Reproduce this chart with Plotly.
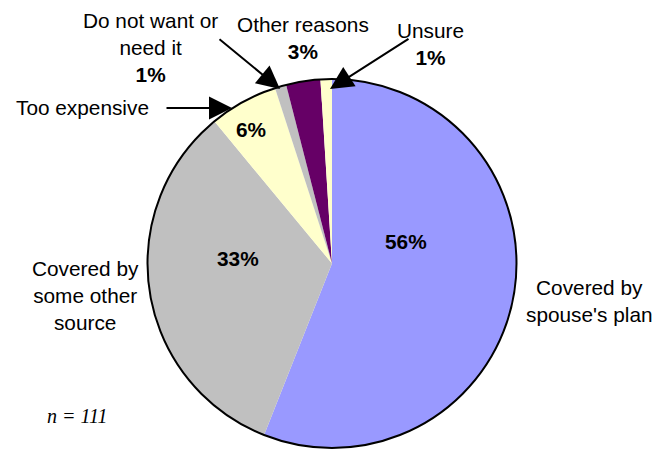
import plotly.graph_objects as go

labels = ["Covered by spouse's plan", "Covered by some other source", "Too expensive",
          "Do not want or need it", "Other reasons", "Unsure"]
values = [56, 33, 6, 1, 3, 1]
colors = ["#9999FF", "#C0C0C0", "#FFFFCC", "#C0C0C0", "#660066", "#FFFFCC"]
label_text = ["Covered by<br>spouse's plan", "Covered by<br>some other<br>source", "Too expensive",
              "Do not want or<br>need it", "Other reasons", "Unsure"]
n_text = "n = 111"

W, H = 656, 449
FONT = "Liberation Sans, Arial, sans-serif"
FS = 20.8

# pie placement in pixels
cx, cy, r = 332, 263.5, 184.5
dom_x = [(cx - r) / W, (cx + r) / W]
dom_y = [1 - (cy + r) / H, 1 - (cy - r) / H]

def px(x):
    return x / W

def py(y):
    return 1 - y / H

fig = go.Figure()
fig.add_trace(go.Pie(
    labels=labels, values=values, sort=False, direction="clockwise", rotation=0,
    marker=dict(colors=colors, line=dict(width=0)),
    textinfo="none", hoverinfo="label+percent", domain=dict(x=dom_x, y=dom_y),
    showlegend=False,
))
# outer outline
fig.add_trace(go.Pie(
    labels=["outline"], values=[1], sort=False,
    marker=dict(colors=["rgba(0,0,0,0)"], line=dict(color="black", width=2)),
    textinfo="none", hoverinfo="skip", domain=dict(x=dom_x, y=dom_y),
    showlegend=False,
))

anns = []
def txt(x, y, t, **kw):
    anns.append(dict(x=px(x), y=py(y), xref="paper", yref="paper", text=t,
                     showarrow=False, xanchor="center", yanchor="middle",
                     font=kw.pop("font", dict(family=FONT, size=FS, color="black")), **kw))

def arrow(x0, y0, x1, y1):
    anns.append(dict(x=px(x1), y=py(y1), xref="paper", yref="paper", text="",
                     showarrow=True, ax=x0 - x1, ay=y0 - y1, axref="pixel", ayref="pixel",
                     arrowhead=2, arrowsize=2.3, arrowwidth=2, arrowcolor="black"))

# inside percentages
txt(406, 241, f"<b>{values[0]}%</b>")
txt(238, 258, f"<b>{values[1]}%</b>")
txt(251, 130, f"<b>{values[2]}%</b>")

# outside labels
txt(589, 301, label_text[0], align="center")
txt(85, 295, label_text[1], align="center")
txt(82, 107, label_text[2])
txt(150, 47, f"{label_text[3]}<br><b>{values[3]}%</b>", align="center")
txt(303, 38, f"{label_text[4]}<br><b>{values[4]}%</b>", align="center")
txt(430, 44, f"{label_text[5]}<br><b>{values[5]}%</b>", align="center")

# arrows
arrow(165, 108, 232, 108)
arrow(218, 38, 280, 89)
arrow(410, 38, 330, 89)

txt(77, 416, n_text, font=dict(family="Liberation Serif, Times New Roman, serif",
                                 size=20, color="black", style="italic"))

fig.update_layout(width=W, height=H, margin=dict(l=0, r=0, t=0, b=0),
                  paper_bgcolor="white", plot_bgcolor="white", annotations=anns)
fig.write_html("out.html", config={"displayModeBar": False},
               post_script="document.body.style.margin='0px';document.body.style.overflow='hidden';")
